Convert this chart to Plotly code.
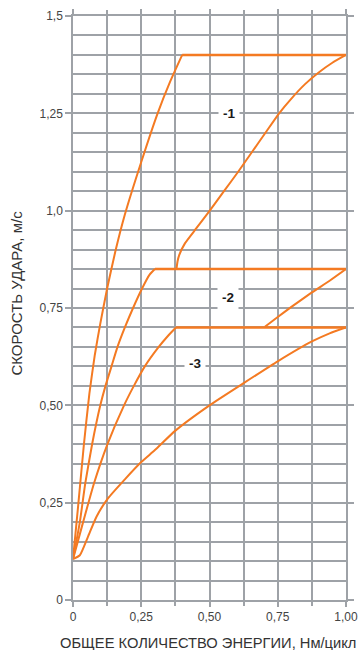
import plotly.graph_objects as go

# ---- data ----
x_tick_vals = [0, 0.25, 0.5, 0.75, 1.0]
x_tick_text = ["0", "0,25", "0,50", "0,75", "1,00"]
y_tick_vals = [0, 0.25, 0.5, 0.75, 1.0, 1.25, 1.5]
y_tick_text = ["0", "0,25", "0,50", "0,75", "1,0", "1,25", "1,5"]

# rising branch to level 1 (1.40)
energy_a = [0, 0.02, 0.04, 0.06, 0.08, 0.10, 0.125, 0.155, 0.19, 0.25, 0.31, 0.355, 0.40]
speed_a = [0.105, 0.25, 0.40, 0.53, 0.63, 0.71, 0.80, 0.895, 0.99, 1.125, 1.25, 1.33, 1.40]
# rising branch to level 2 (0.85)
energy_b = [0, 0.025, 0.045, 0.07, 0.10, 0.119, 0.141, 0.163, 0.19, 0.22, 0.253, 0.28, 0.30]
speed_b = [0.105, 0.2, 0.3, 0.4, 0.5, 0.55, 0.6, 0.65, 0.7, 0.75, 0.8, 0.835, 0.85]
# rising branch to level 3 (0.70)
energy_c = [0, 0.037, 0.077, 0.126, 0.187, 0.223, 0.263, 0.314, 0.35, 0.377]
speed_c = [0.105, 0.2, 0.3, 0.4, 0.5, 0.55, 0.6, 0.65, 0.68, 0.70]
# lower curve ending at level 3
energy_d = [0, 0.025, 0.055, 0.086, 0.128, 0.19, 0.251, 0.3, 0.375, 0.5, 0.625, 0.75, 0.875, 0.94, 1.0]
speed_d = [0.105, 0.115, 0.163, 0.214, 0.261, 0.31, 0.355, 0.385, 0.435, 0.5, 0.557, 0.613, 0.664, 0.685, 0.70]
# curve from level 2 up to level 1
energy_e = [0.379, 0.383, 0.389, 0.41, 0.452, 0.501, 0.553, 0.605, 0.655, 0.705, 0.755, 0.80, 0.85, 0.90, 0.95, 1.0]
speed_e = [0.85, 0.87, 0.886, 0.916, 0.955, 1.0, 1.05, 1.1, 1.15, 1.2, 1.25, 1.288, 1.325, 1.355, 1.38, 1.40]
# curve from level 3 up to level 2
energy_f = [0.703, 0.75, 0.80, 0.875, 0.94, 1.0]
speed_f = [0.702, 0.727, 0.753, 0.79, 0.82, 0.85]

# plateau levels: (start energy, end energy, speed)
plateau_start = [0.40, 0.30, 0.377]
plateau_end = [1.0, 1.0, 1.0]
plateau_speed = [1.40, 0.85, 0.70]

label_text = ["-1", "-2", "-3"]
label_x = [0.572, 0.568, 0.446]
label_y = [1.25, 0.778, 0.607]

ORANGE = "#F47A22"
GRID = "#9EA2A7"

fig = go.Figure()
for ex, sp in [(energy_a, speed_a), (energy_b, speed_b), (energy_c, speed_c),
               (energy_d, speed_d), (energy_e, speed_e), (energy_f, speed_f)]:
    fig.add_trace(go.Scatter(x=ex, y=sp, mode="lines",
                             line=dict(color=ORANGE, width=2, shape="spline", smoothing=0.5),
                             hoverinfo="skip"))
for s, e, v in zip(plateau_start, plateau_end, plateau_speed):
    fig.add_trace(go.Scatter(x=[s, e], y=[v, v], mode="lines",
                             line=dict(color=ORANGE, width=2.5), hoverinfo="skip"))

for t, lx, ly in zip(label_text, label_x, label_y):
    fig.add_annotation(x=lx, y=ly, xref="x", yref="y", text="<b>" + t + "</b>",
                       showarrow=False, bgcolor="white", borderpad=4,
                       font=dict(family="Liberation Sans", size=13.5, color="#1a1a1a"))

fig.add_annotation(x=0.494, y=-0.073, xref="paper", yref="paper",
                   text="ОБЩЕЕ КОЛИЧЕСТВО ЭНЕРГИИ, Нм/цикл", showarrow=False,
                   xanchor="center", yanchor="middle",
                   font=dict(family="Liberation Sans", size=14.7, color="#333333"))
fig.add_annotation(x=-0.206, y=0.526, xref="paper", yref="paper",
                   text="СКОРОСТЬ УДАРА, м/с", showarrow=False, textangle=-90,
                   xanchor="center", yanchor="middle",
                   font=dict(family="Liberation Sans", size=15, color="#333333"))

fig.update_xaxes(range=[0, 1], tickvals=x_tick_vals, ticktext=x_tick_text,
                 ticks="outside", ticklen=5, tickwidth=1.5, tickcolor=GRID,
                 showgrid=True, gridcolor=GRID, gridwidth=1.5,
                 minor=dict(dtick=0.125, tick0=0, showgrid=True, gridcolor=GRID, gridwidth=1.5,
                            ticks="outside", ticklen=4, tickcolor=GRID, tickwidth=1.5),
                 showline=True, linecolor=GRID, linewidth=1.5, mirror="ticks",
                 zeroline=False, fixedrange=True, automargin=False,
                 ticklabeloverflow="allow",
                 tickfont=dict(family="Liberation Sans", size=12, color="#444444"))
fig.update_yaxes(range=[0, 1.5], tickvals=y_tick_vals, ticktext=y_tick_text,
                 ticks="outside", ticklen=6, tickwidth=1.5, tickcolor=GRID,
                 showgrid=True, gridcolor=GRID, gridwidth=1.5,
                 minor=dict(dtick=0.05, tick0=0, showgrid=True, gridcolor=GRID, gridwidth=1.5),
                 showline=True, linecolor=GRID, linewidth=1.5, mirror="ticks",
                 zeroline=False, fixedrange=True, automargin=False,
                 ticklabeloverflow="allow",
                 tickfont=dict(family="Liberation Sans", size=12, color="#444444"))

fig.update_layout(width=358, height=650, margin=dict(l=73, r=12, t=16, b=50),
                  plot_bgcolor="white", paper_bgcolor="white", showlegend=False,
                  font=dict(family="Liberation Sans"))

# remove the default 8px page margin so the figure fills the window exactly
fig.write_html("out.html", config={"displayModeBar": False},
               post_script="document.body.style.margin='0';document.body.style.overflow='hidden';")
